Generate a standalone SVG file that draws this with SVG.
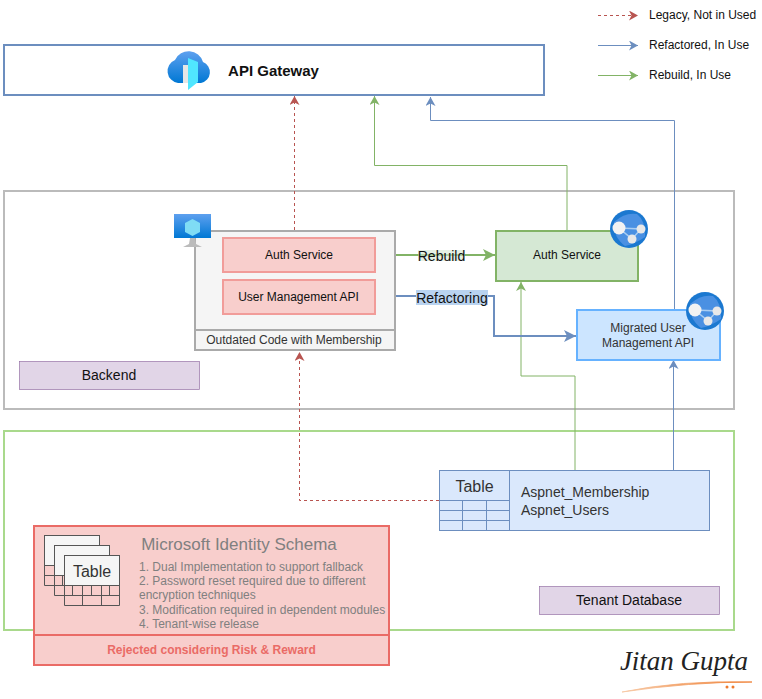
<svg xmlns="http://www.w3.org/2000/svg" width="762" height="699" viewBox="0 0 762 699">
<style>
text{font-family:"Liberation Sans",Arial,sans-serif;fill:#111;text-anchor:middle}
.l{text-anchor:start}
.g{fill:#808080}
.d{fill:#333}
.c{fill:none;stroke-width:1}
.red{stroke:#b85450;stroke-dasharray:3 3}
.blue{stroke:#6c8ebf}
.green{stroke:#82b366}
.tb{fill:none;stroke:#6c8ebf;stroke-width:1}
.tg2{fill:#f5f5f5;stroke:#555;stroke-width:1}
.tl{fill:none;stroke:#555;stroke-width:1}
</style>
<defs>
<marker id="mr" markerUnits="userSpaceOnUse" markerWidth="10" markerHeight="10" refX="9" refY="5" orient="auto"><path d="M0 0L9 5L0 10L2.500 5Z" fill="#b85450"/></marker>
<marker id="mb" markerUnits="userSpaceOnUse" markerWidth="10" markerHeight="10" refX="9" refY="5" orient="auto"><path d="M0 0L9 5L0 10L2.500 5Z" fill="#6c8ebf"/></marker>
<marker id="mg" markerUnits="userSpaceOnUse" markerWidth="10" markerHeight="10" refX="9" refY="5" orient="auto"><path d="M0 0L9 5L0 10L2.500 5Z" fill="#82b366"/></marker>
<marker id="mB" markerUnits="userSpaceOnUse" markerWidth="13" markerHeight="13" refX="12" refY="6" orient="auto"><path d="M0 0L12 6L0 12L3 6Z" fill="#6c8ebf"/></marker>
<marker id="mG" markerUnits="userSpaceOnUse" markerWidth="13" markerHeight="13" refX="12" refY="6" orient="auto"><path d="M0 0L12 6L0 12L3 6Z" fill="#82b366"/></marker>
<linearGradient id="az" x1="0" y1="0" x2="0" y2="1"><stop offset="0" stop-color="#5ea0ef"/><stop offset="1" stop-color="#0078d4"/></linearGradient>
<linearGradient id="sw" x1="0" y1="0" x2="1" y2="0"><stop offset="0" stop-color="#f7c9a5"/><stop offset="1" stop-color="#ee7a2c"/></linearGradient>
<g id="web"><circle r="19" fill="#1b78d0"/><path d="M-15 -7Q-4 -17 8 -15Q17 -8 16 8Q6 15 -4 17Q-16 8 -15 -7Z" fill="#4a90e2"/><path d="M-10 -1L12 0L3 10Z" fill="none" stroke="#a9cdf2" stroke-width="1.500"/><circle cx="-10" cy="-1" r="6.500" fill="#f2f2f2"/><circle cx="12" cy="0" r="4.500" fill="#e8e8e8"/><circle cx="3" cy="10" r="4.500" fill="#e8e8e8"/></g>
</defs>

<g id="gateway"><rect x="4" y="45" width="540" height="50" fill="#fff" stroke="#6c8ebf" stroke-width="2"/><text x="273.500" y="76" font-size="15" font-weight="bold">API Gateway</text>
<path d="M178 83A12 12 0 0 1 175 60A15 15 0 0 1 203 62A11 11 0 0 1 201 83Z" fill="url(#az)"/><rect x="183" y="65" width="7" height="18" fill="#e6e6e6"/><path d="M188 58L198 62V82L188 90Z" fill="#50e6ff"/></g>

<g id="backend"><rect x="4" y="191" width="730" height="218" fill="#fff" stroke="#bbb" stroke-width="2"/><rect x="19.500" y="361.500" width="180" height="28" fill="#e1d5e7" stroke="#9673a6" stroke-width="0.7"/><text x="109" y="380" font-size="14">Backend</text></g>

<g id="tenant"><rect x="4" y="431" width="730" height="199" fill="#fff" stroke="#a9d98c" stroke-width="2"/><rect x="539.500" y="586.500" width="180" height="28" fill="#e1d5e7" stroke="#9673a6" stroke-width="0.7"/><text x="629" y="605" font-size="14">Tenant Database</text></g>

<g id="connectors">
<path class="c red" d="M294.500 230V96" marker-end="url(#mr)"/>
<path class="c red" d="M439 500.500H299.500V352" marker-end="url(#mr)"/>
<path class="c green" d="M567 230V165.500H374.500V96" marker-end="url(#mg)"/>
<path class="c blue" d="M674.500 310V120.500H430.500V97" marker-end="url(#mb)"/>
<path class="c green" d="M575 470V376H521V282" marker-end="url(#mg)"/>
<path class="c blue" d="M673.500 470V360" marker-end="url(#mb)"/>
<path d="M375 255H495" fill="none" stroke="#82b366" stroke-width="2" marker-end="url(#mG)"/>
<path d="M375 296H494V336H576" fill="none" stroke="#6c8ebf" stroke-width="2" marker-end="url(#mB)"/>
</g>
<g id="edge-labels"><rect x="418" y="250" width="47" height="11" fill="#d5e8d4" opacity="0.6"/><text x="441.500" y="261" font-size="14">Rebuild</text><rect x="416" y="290" width="72" height="15" fill="#b9d3f0"/><text x="452" y="303" font-size="14">Refactoring</text></g>

<g id="old-service"><rect x="195" y="231" width="200" height="119" fill="#f5f5f5" stroke="#aaa" stroke-width="2"/><line x1="195" y1="330" x2="395" y2="330" stroke="#aaa" stroke-width="2"/><text x="294" y="344" font-size="12" class="d">Outdated Code with Membership</text>
<path d="M174 214H211V238H174Z" fill="url(#az)"/><path d="M192.500 219L200 223V232L192.500 236L185 232V223Z" fill="#7fdcf5"/><path d="M190 238H195L196 244L202 247H183L189 244Z" fill="#bbb"/></g>
<g id="auth-old"><rect x="223" y="238" width="152" height="34" fill="#f8cecc" stroke="#f19c99" stroke-width="2"/><text x="299" y="259" font-size="12">Auth Service</text></g>
<g id="user-old"><rect x="223" y="280" width="152" height="34" fill="#f8cecc" stroke="#f19c99" stroke-width="2"/><text x="298.500" y="301" font-size="12">User Management API</text></g>

<g id="auth-new"><rect x="496" y="231" width="142" height="50" fill="#d5e8d4" stroke="#82b366" stroke-width="2"/><text x="567" y="259" font-size="12">Auth Service</text><use href="#web" x="629" y="229"/></g>
<g id="user-new"><rect x="577" y="310" width="143" height="50" fill="#cce5ff" stroke="#66b2ff" stroke-width="2"/><text x="648" y="332" font-size="12" class="d">Migrated User</text><text x="648" y="347" font-size="12" class="d">Management API</text><use href="#web" x="705" y="311"/></g>

<g id="table"><rect x="439.500" y="470.500" width="270" height="60" fill="#dae8fc" stroke="#6c8ebf"/><path class="tb" d="M509.500 470.500V530.500M439.500 500.500H509.500M439.500 510.500H509.500M439.500 520.500H509.500M462.500 500.500V530.500M486.500 500.500V530.500"/><text x="474.500" y="492" font-size="16" class="d">Table</text><text class="l d" x="521" y="497" font-size="14">Aspnet_Membership</text><text class="l d" x="521" y="515" font-size="14">Aspnet_Users</text></g>

<g id="identity"><rect x="34" y="526" width="355" height="109" fill="#f8cecc" stroke="#ea6b66" stroke-width="2"/><rect x="34" y="635" width="355" height="30" fill="#f8cecc" stroke="#ea6b66" stroke-width="2"/>
<text x="239" y="550" font-size="17" class="g">Microsoft Identity Schema</text>
<g font-size="12"><text class="l g" x="139" y="571">1. Dual Implementation to support fallback</text><text class="l g" x="139" y="585">2. Password reset required due to different</text><text class="l g" x="139" y="599">encryption techniques</text><text class="l g" x="139" y="614">3. Modification required in dependent modules</text><text class="l g" x="139" y="628">4. Tenant-wise release</text></g>
<text x="211.500" y="654" font-size="12" font-weight="bold" style="fill:#ea6b66">Rejected considering Risk &amp; Reward</text>
<path class="tl" d="M44.500 535.500H99.500V585.500H44.500ZM44.500 565.500H99.500M44.500 575.500H99.500M62.500 565.500V585.500M81.500 565.500V585.500"/><rect x="44.500" y="535.500" width="55" height="30" class="tg2"/>
<path class="tl" d="M54.500 545.500H109.500V595.500H54.500ZM54.500 575.500H109.500M54.500 585.500H109.500M72.500 575.500V595.500M91.500 575.500V595.500"/><rect x="54.500" y="545.500" width="55" height="30" class="tg2"/>
<path class="tl" d="M64.500 555.500H119.500V605.500H64.500ZM64.500 585.500H119.500M64.500 595.500H119.500M82.500 585.500V605.500M101.500 585.500V605.500"/><rect x="64.500" y="555.500" width="55" height="30" class="tg2"/>
<text x="92" y="577" font-size="16" class="d">Table</text></g>

<g id="legend">
<line class="c red" x1="598" y1="15.500" x2="638" y2="15.500" marker-end="url(#mr)"/><text class="l" x="649" y="19" font-size="12">Legacy, Not in Used</text>
<line class="c blue" x1="598" y1="45.500" x2="638" y2="45.500" marker-end="url(#mb)"/><text class="l" x="649" y="49" font-size="12">Refactored, In Use</text>
<line class="c green" x1="598" y1="75.500" x2="638" y2="75.500" marker-end="url(#mg)"/><text class="l" x="649" y="79" font-size="12">Rebuild, In Use</text>
</g>

<g id="signature"><text x="684" y="670" font-size="27" font-style="italic" style="font-family:'Liberation Serif',serif;fill:#222">Jitan Gupta</text><path d="M622 692Q680 680 752 682Q690 682 622 692Z" fill="url(#sw)" stroke="url(#sw)" stroke-width="0.800"/><circle cx="727" cy="687" r="1.500" fill="#ee7a2c"/><circle cx="733" cy="687" r="1.500" fill="#ee7a2c"/></g>
</svg>
